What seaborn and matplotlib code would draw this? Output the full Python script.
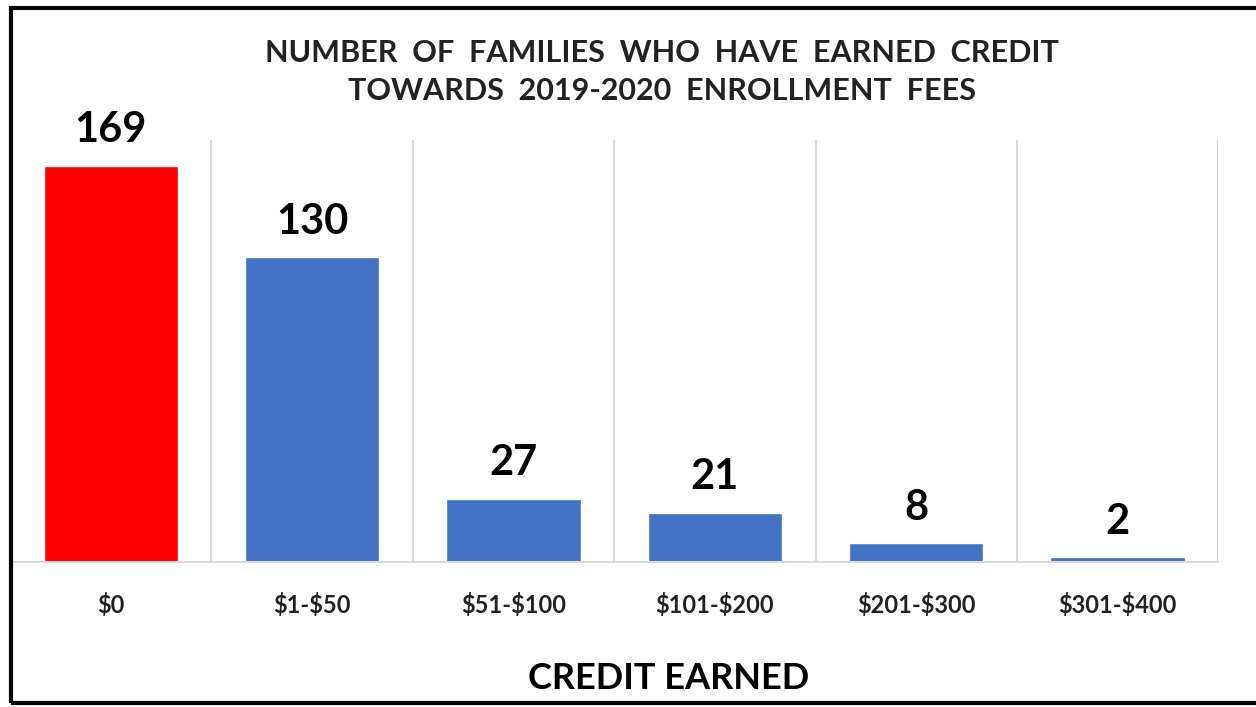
import pandas as pd
import numpy as np
import matplotlib.pyplot as plt
import seaborn as sns
from matplotlib.patches import Rectangle

# --- Datos del grafico ---
categorias = ['$0', '$1-$50', '$51-$100', '$101-$200', '$201-$300', '$301-$400']
familias = [169, 130, 27, 21, 8, 2]
colores = ['#FF0000', '#4472C4', '#4472C4', '#4472C4', '#4472C4', '#4472C4']

titulo = "NUMBER  OF  FAMILIES  WHO  HAVE  EARNED  CREDIT\nTOWARDS  2019-2020  ENROLLMENT  FEES"
etiqueta_x = "CREDIT EARNED"

df = pd.DataFrame({'credito': categorias, 'familias': familias})

sns.set_style('white')
plt.rcParams['font.family'] = ['Lato', 'DejaVu Sans']

fig = plt.figure(figsize=(12.56, 7.07), dpi=100)
ax = fig.add_axes([0.008, 0.205, 0.962, 0.597])

sns.barplot(data=df, x='credito', y='familias', hue='credito',
            palette=colores, width=0.667, legend=False, ax=ax, saturation=1)

# etiquetas de valor encima de cada barra
for cont in ax.containers:
    ax.bar_label(cont, fontsize=30, fontweight='bold', padding=12, color='black')

ax.set_ylim(0, 180)
ax.set_xlim(-0.5, len(categorias) - 0.5)
ax.set_yticks([])
ax.set_ylabel('')
ax.set_xlabel('')

# etiquetas del eje x (escapar el $ para que no sea mathtext)
ax.set_xticks(range(len(categorias)))
ax.set_xticklabels([c.replace('$', r'\$') for c in categorias],
                   fontsize=17, fontweight='bold', color='#222222')

# lineas verticales entre categorias
ax.set_xticks(np.arange(-0.5, len(categorias)), minor=True)
ax.grid(True, which='minor', axis='x', color='#d9d9d9', linewidth=1.5)
ax.tick_params(axis='x', which='both', length=0, pad=22)

for s in ['top', 'left', 'right']:
    ax.spines[s].set_visible(False)
ax.spines['bottom'].set_color('#d9d9d9')
ax.spines['bottom'].set_linewidth(1.5)

fig.text(0.527, 0.898, titulo, ha='center', va='center', fontsize=22,
         fontweight='bold', linespacing=1.45, color='#222222')
fig.text(0.532, 0.041, etiqueta_x, ha='center', va='center', fontsize=26,
         fontweight='bold', color='black')

# marco negro alrededor
fig.patches.append(Rectangle((11 / 1256, 1 - 703 / 707), 1.0, (703 - 8) / 707,
                             transform=fig.transFigure, fill=False,
                             edgecolor='black', linewidth=3))

fig.savefig('out.png', dpi=100, facecolor='white')
